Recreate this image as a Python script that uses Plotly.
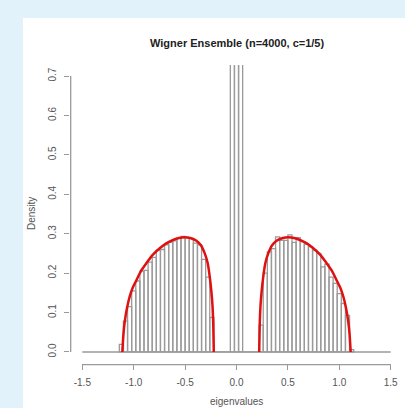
import plotly.graph_objects as go

# ---- data ----
bin_start = -1.14
bin_width = 0.04
left_lobe = [0.019, 0.078, 0.115, 0.155, 0.18, 0.205, 0.207, 0.228, 0.24, 0.258, 0.26, 0.272,
             0.278, 0.282, 0.288, 0.293, 0.29, 0.288, 0.276, 0.272, 0.235, 0.19, 0.088]
gap = [0.0, 0.0, 0.0, 0.0]
spike = [5.0, 5.0, 5.0]
right_lobe = [0.068, 0.20, 0.254, 0.262, 0.292, 0.283, 0.283, 0.297, 0.278, 0.29, 0.28, 0.273,
              0.267, 0.258, 0.25, 0.216, 0.223, 0.19, 0.174, 0.148, 0.123, 0.093, 0.006]
density = left_lobe + gap + spike + gap + right_lobe

curve_left_x = [-1.111, -1.100, -1.088, -1.065, -1.04, -1.01, -0.974, -0.93, -0.877, -0.82, -0.747,
                -0.68, -0.617, -0.56, -0.504, -0.45, -0.39, -0.345, -0.309, -0.28, -0.26, -0.245,
                -0.233, -0.226, -0.221]
curve_left_y = [0.0, 0.045, 0.076, 0.112, 0.14, 0.163, 0.182, 0.205, 0.225, 0.245, 0.263,
                0.276, 0.284, 0.289, 0.291, 0.289, 0.282, 0.27, 0.25, 0.225, 0.19, 0.155,
                0.115, 0.07, 0.0]
curve_right_x = [-v for v in curve_left_x[::-1]]
curve_right_y = curve_left_y[::-1]

xticks = [-1.5, -1.0, -0.5, 0.0, 0.5, 1.0, 1.5]
yticks = [0.0, 0.1, 0.2, 0.3, 0.4, 0.5, 0.6, 0.7]
title = "Wigner Ensemble (n=4000, c=1/5)"
xlabel = "eigenvalues"
ylabel = "Density"

centers = [bin_start + bin_width * (i + 0.5) for i in range(len(density))]

GRAY = "#9a9a9a"
TXT = "#555555"
BG = "#e2f2fa"
FONT = "Liberation Sans, Arial, sans-serif"

fig = go.Figure()
fig.add_trace(go.Bar(x=centers, y=density, width=bin_width,
                     marker=dict(color="rgba(255,255,255,0)", line=dict(color=GRAY, width=1.3)),
                     hoverinfo="skip"))
# baseline
fig.add_trace(go.Scatter(x=[xticks[0], xticks[-1]], y=[0, 0], mode="lines",
                         line=dict(color=GRAY, width=1.5), hoverinfo="skip"))
for cx, cy in [(curve_left_x, curve_left_y), (curve_right_x, curve_right_y)]:
    fig.add_trace(go.Scatter(x=cx, y=cy, mode="lines", line=dict(color="#e01010", width=2.5, shape="spline", smoothing=0.6),
                             hoverinfo="skip"))

PW, PH = 333, 298
shapes = [
    # white panel
    dict(type="rect", xref="paper", yref="paper", x0=-47/PW, x1=1.1, y0=-0.2, y1=1 + 47/PH,
         fillcolor="white", line=dict(width=0), layer="below"),
    # x axis line
    dict(type="line", xref="x", yref="paper", x0=xticks[0], x1=xticks[-1], y0=-1.6/PH, y1=-1.6/PH,
         line=dict(color=GRAY, width=1.3)),
    # y axis line
    dict(type="line", xref="paper", yref="y", x0=0.7/PW, x1=0.7/PW, y0=yticks[0], y1=yticks[-1],
         line=dict(color=GRAY, width=1.3)),
]

fig.update_layout(
    width=405, height=408,
    margin=dict(l=70, r=2, t=65, b=45, autoexpand=False),
    paper_bgcolor=BG, plot_bgcolor="rgba(0,0,0,0)",
    showlegend=False, barmode="overlay", shapes=shapes,
    font=dict(family=FONT, size=10, color=TXT),
    xaxis=dict(range=[-1.62, 1.62], tickvals=xticks, ticktext=[f"{v:.1f}" for v in xticks],
               showgrid=False, zeroline=False, showline=False, ticks="outside", ticklen=6,
               tickcolor=GRAY, tickwidth=1.3, tickfont=dict(size=10, color=TXT), automargin=False,
               ticklabelstandoff=4),
    yaxis=dict(range=[-0.028, 0.728], tickvals=yticks, ticktext=[f"{v:.1f}" for v in yticks],
               showgrid=False, zeroline=False, showline=False, ticks="outside", ticklen=5,
               tickcolor=GRAY, tickwidth=1.3, tickangle=-90, tickfont=dict(size=10, color=TXT),
               automargin=False, ticklabelstandoff=4),
    annotations=[
        dict(text=f"<b>{title}</b>", xref="paper", yref="paper", x=0.5, y=1 + 22/PH,
             showarrow=False, font=dict(size=11, color="#222222"), xanchor="center", yanchor="middle"),
        dict(text=xlabel, xref="paper", yref="paper", x=0.5, y=-38/PH, showarrow=False,
             font=dict(size=10, color=TXT), xanchor="center", yanchor="middle"),
        dict(text=ylabel, xref="paper", yref="paper", x=-39/PW, y=0.5, showarrow=False, textangle=-90,
             font=dict(size=10, color=TXT), xanchor="center", yanchor="middle"),
    ],
)
fig.write_html("out.html", config={"displayModeBar": False},
               post_script=f"document.body.style.margin='0';document.body.style.background='{BG}';")
